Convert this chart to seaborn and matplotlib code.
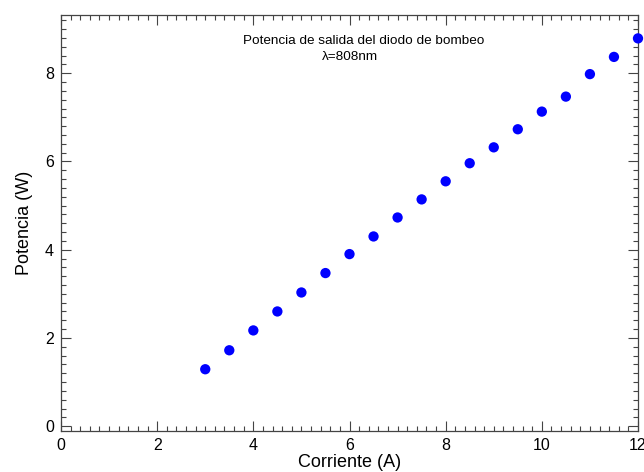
import pandas as pd
import matplotlib.pyplot as plt
import seaborn as sns
from matplotlib.ticker import MultipleLocator

corriente = [3.0, 3.5, 4.0, 4.5, 5.0, 5.5, 6.0, 6.5, 7.0, 7.5,
             8.0, 8.5, 9.0, 9.5, 10.0, 10.5, 11.0, 11.5, 12.0]
potencia = [1.29, 1.72, 2.17, 2.60, 3.03, 3.47, 3.90, 4.30, 4.73, 5.14,
            5.55, 5.96, 6.32, 6.73, 7.13, 7.47, 7.98, 8.37, 8.79]

sns.set_style("ticks")
plt.rcParams["font.family"] = ["Liberation Sans", "DejaVu Sans"]
plt.rcParams["text.color"] = "black"
plt.rcParams["axes.labelcolor"] = "black"
plt.rcParams["xtick.labelcolor"] = "black"
plt.rcParams["ytick.labelcolor"] = "black"

df = pd.DataFrame({"corriente": corriente, "potencia": potencia})

fig = plt.figure(figsize=(6.44, 4.72), dpi=100)
ax = fig.add_axes([61 / 644, 41 / 472, 577 / 644, 416 / 472])

sns.scatterplot(data=df, x="corriente", y="potencia", ax=ax, color="#0000ff",
                s=55, edgecolor="none", clip_on=False, zorder=3)

ax.set_xlim(0, 12)
ax.set_ylim(-0.11, 9.32)
ax.xaxis.set_major_locator(MultipleLocator(2))
ax.xaxis.set_minor_locator(MultipleLocator(0.2))
ax.yaxis.set_major_locator(MultipleLocator(2))
ax.yaxis.set_minor_locator(MultipleLocator(0.2))
ax.tick_params(which="both", direction="in", top=True, right=True,
               color="#444444", width=0.8)
ax.tick_params(which="major", length=7, labelsize=11.5, pad=5)
ax.tick_params(which="minor", length=3.5)
for sp in ax.spines.values():
    sp.set_color("#444444")
    sp.set_linewidth(0.9)

ax.set_xlabel("Corriente (A)", fontsize=13, labelpad=1)
ax.set_ylabel("Potencia (W)", fontsize=13, labelpad=9)

ax.text(6.3, 8.74, "Potencia de salida del diodo de bombeo", ha="center",
        va="center", fontsize=9.7)
ax.text(6.0, 8.37, "λ=808nm", ha="center", va="center", fontsize=9.7)

fig.savefig("out.png", dpi=100)
